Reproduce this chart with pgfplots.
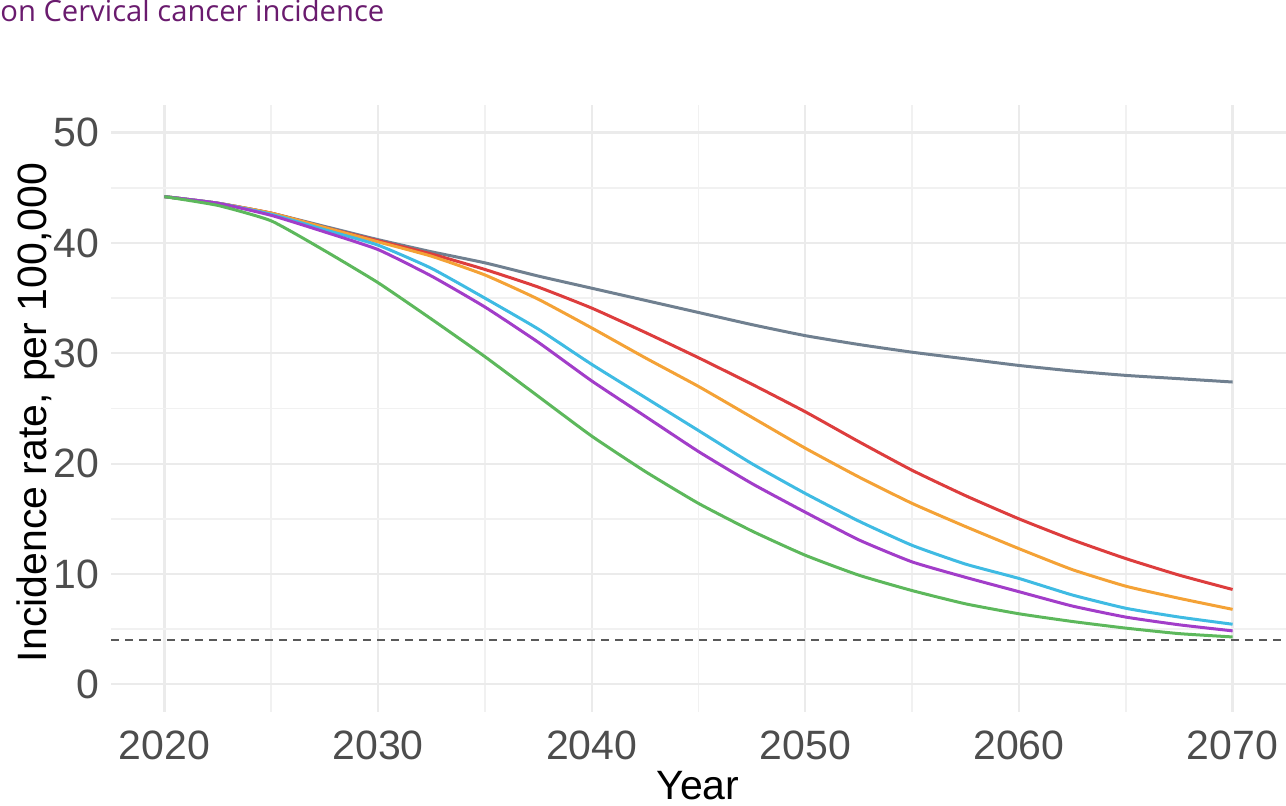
\documentclass[border=0pt]{standalone}
\usepackage{pgfplots}
\pgfplotsset{compat=1.18}
\usepackage{pgfplotstable}
\usepackage{fontspec}
\setmainfont{Liberation Sans}
\newfontfamily\titlefont{Open Sans}

\definecolor{cgray}{HTML}{708090}
\definecolor{cred}{HTML}{DD3D3D}
\definecolor{corange}{HTML}{F4A236}
\definecolor{ccyan}{HTML}{3FBBE3}
\definecolor{cpurple}{HTML}{A23DC9}
\definecolor{cgreen}{HTML}{5DB85C}
\definecolor{gridc}{HTML}{EBEBEB}
\definecolor{ticktext}{HTML}{4D4D4D}
\definecolor{titlec}{HTML}{6A1B6E}

% Projected incidence per 100,000 under each scenario
\pgfplotstableread{
year  gray  red   orange cyan  purple green
2020  44.2  44.2  44.2   44.2  44.2   44.2
2022.5 43.6 43.6  43.6   43.6  43.6   43.4
2025  42.7  42.7  42.7   42.6  42.5   42.0
2027.5 41.5 41.4  41.4   41.2  41.0   39.3
2030  40.3  40.2  40.1   39.8  39.4   36.4
2032.5 39.2 39.0  38.8   37.7  37.0   33.1
2035  38.2  37.6  37.1   35.0  34.2   29.7
2037.5 37.0 36.0  34.9   32.2  31.0   26.1
2040  35.9  34.1  32.3   29.0  27.5   22.5
2042.5 34.8 31.9  29.6   26.0  24.3   19.3
2045  33.7  29.6  27.0   23.0  21.1   16.4
2047.5 32.6 27.2  24.2   20.0  18.2   13.9
2050  31.6  24.7  21.4   17.3  15.6   11.7
2052.5 30.8 22.0  18.8   14.8  13.1   9.9
2055  30.1  19.4  16.4   12.6  11.1   8.5
2057.5 29.5 17.1  14.3   10.9  9.7    7.3
2060  28.9  15.0  12.3   9.6   8.4    6.4
2062.5 28.4 13.1  10.4   8.1   7.1    5.7
2065  28.0  11.4  8.9    6.9   6.1    5.1
2067.5 27.7 9.9   7.8    6.1   5.4    4.6
2070  27.4  8.6   6.8    5.45  4.85   4.3
}\incidence

\begin{document}
\begin{tikzpicture}
\path[use as bounding box] (0,0) rectangle (643pt,403pt);
\begin{axis}[
  at={(55.5pt,47pt)}, anchor=south west,
  scale only axis, width=587.5pt, height=303.5pt,
  xmin=2017.5, xmax=2072.5, ymin=-2.5, ymax=52.5,
  axis line style={draw=none},
  major tick length=0pt, minor tick length=0pt,
  xtick={2020,2030,...,2070}, ytick={0,10,...,50},
  minor x tick num=1, minor y tick num=1,
  grid=both,
  major grid style={draw=gridc, line width=1.1pt},
  minor grid style={draw=gridc!70, line width=0.8pt},
  /pgf/number format/assume math mode=true,
  xticklabel={\pgfmathprintnumber[1000 sep={}]{\tick}},
  ticklabel style={font=\fontsize{20.5}{24}\selectfont, text=ticktext, inner sep=0pt},
  xticklabel style={anchor=north, yshift=-9pt},
  yticklabel style={anchor=east, xshift=-5.5pt},
  every axis plot/.append style={line width=1.5pt, smooth, tension=0.3},
]
\addplot[cgray]   table[x=year, y=gray]   {\incidence};
\addplot[cred]    table[x=year, y=red]    {\incidence};
\addplot[corange] table[x=year, y=orange] {\incidence};
\addplot[ccyan]   table[x=year, y=cyan]   {\incidence};
\addplot[cpurple] table[x=year, y=purple] {\incidence};
\addplot[cgreen]  table[x=year, y=green]  {\incidence};
% elimination threshold
\addplot[black!65, line width=1pt, dash pattern=on 4pt off 3pt, sharp plot] coordinates {(2017.5,4) (2072.5,4)};
\end{axis}
\node[rotate=90, anchor=base, font=\fontsize{20.5}{24}\selectfont] at (23.5pt,196.75pt) {Incidence rate, per 100,000};
\node[anchor=base, font=\fontsize{20.5}{24}\selectfont] at (349pt,3pt) {Year};
\node[anchor=base west, inner sep=0pt, font=\titlefont\fontsize{14.6}{16}\selectfont, text=titlec] at (0pt,392pt) {on Cervical cancer incidence};
\end{tikzpicture}
\end{document}
